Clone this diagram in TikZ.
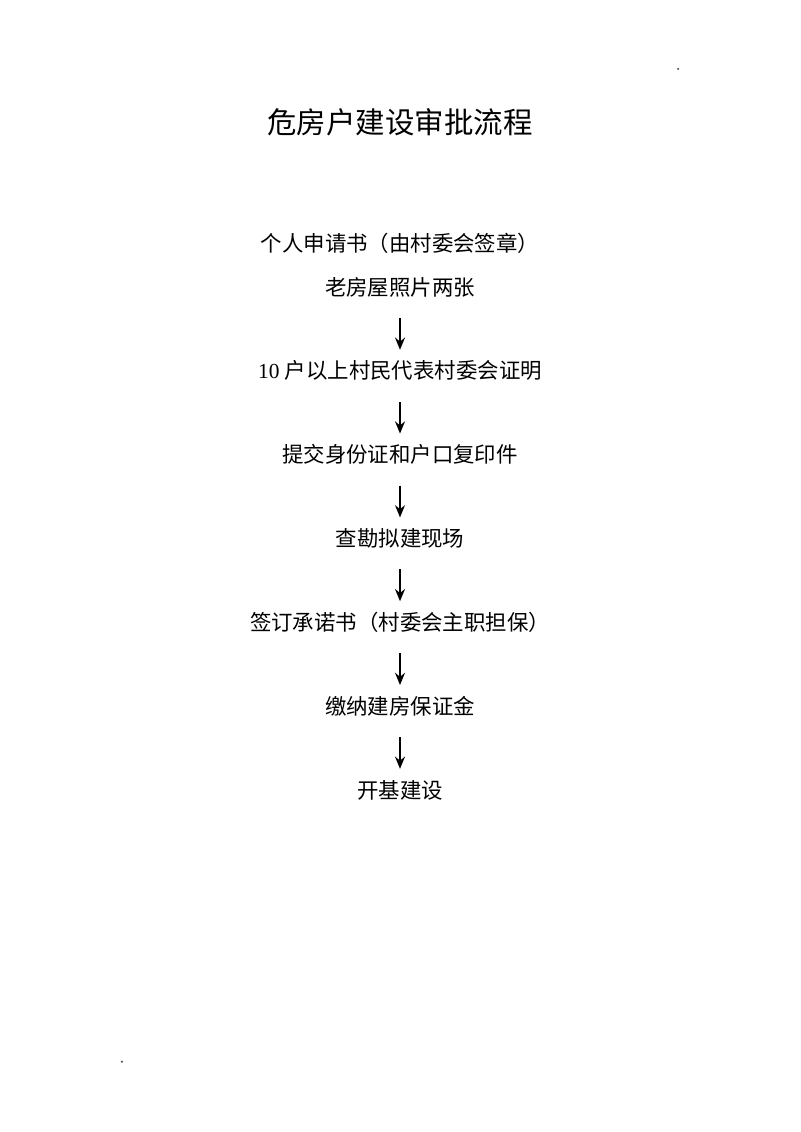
\documentclass[tikz,border=0pt]{standalone}
\usepackage{fontspec}
\setmainfont{Liberation Serif}
\newfontfamily\cjk{Noto Sans CJK SC}
\usepackage{tikz}
\usetikzlibrary{positioning,arrows.meta}

\begin{document}
\begin{tikzpicture}[
  node distance=2.2cm,
  on grid,
  stepnode/.style={inner sep=0pt,text height=0.88em,text depth=0.12em,font=\cjk\fontsize{16}{16}\selectfont},
  ]
  \tikzset{%
    flow/.style={
      line width=1.5pt,
      -{Stealth[length=3.2mm,width=2.6mm]},
      shorten <=0.55cm,
      shorten >=0.45cm,
    },
    speck/.style={
      circle,fill=black!70,inner sep=0pt,minimum size=0.6mm,
    },
  }
  \useasboundingbox[fill=white] (0,0) rectangle (21,-29.715);
  %Title
  \node[font=\cjk\fontsize{22}{22}\selectfont](title) at (10.5,-3.2){危房户建设审批流程};
  %Nodes
  \node[stepnode](p1) at (10.5,-6.46){个人申请书（由村委会签章）};
  \node[stepnode,below=1.155cm of p1](p2){老房屋照片两张};
  \node[stepnode,below=of p2](p3){{\fontsize{16}{16}\rmfamily 10 }户以上村民代表村委会证明};
  \node[stepnode,below=of p3](p4){提交身份证和户口复印件};
  \node[stepnode,below=of p4](p5){查勘拟建现场};
  \node[stepnode,below=of p5](p6){签订承诺书（村委会主职担保）};
  \node[stepnode,below=of p6](p7){缴纳建房保证金};
  \node[stepnode,below=of p7](p8){开基建设};
  %Specks
  \node[speck](mark1) at (17.8,-1.81){};
  \node[speck](mark2) at (3.2,-27.87){};
  %Lines
  \draw[flow] (p2) -- (p3);
  \draw[flow] (p3) -- (p4);
  \draw[flow] (p4) -- (p5);
  \draw[flow] (p5) -- (p6);
  \draw[flow] (p6) -- (p7);
  \draw[flow] (p7) -- (p8);
\end{tikzpicture}
\end{document}
